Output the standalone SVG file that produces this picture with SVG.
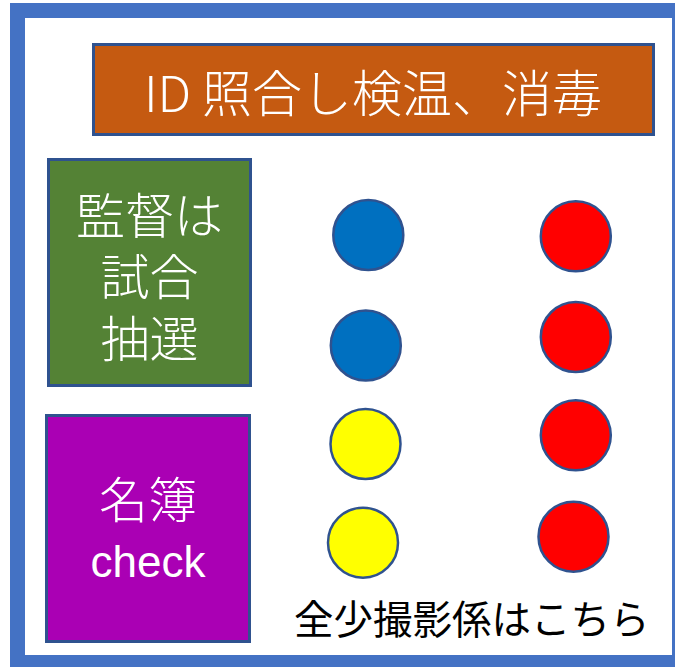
<svg xmlns="http://www.w3.org/2000/svg" width="675" height="667" viewBox="0 0 675 667">
<style>
.box{stroke:#2F528F;stroke-width:3}
.dot{stroke:#2F528F;stroke-width:2.5}
.wt{fill:#FFFFFF;font-family:"Noto Sans CJK JP","Noto Sans",sans-serif;font-weight:300;text-anchor:middle;dominant-baseline:central}
.lat{fill:#FFFFFF;font-family:"Liberation Sans","Noto Sans",sans-serif;text-anchor:middle}
.bk{fill:#000000;font-family:"Noto Sans CJK JP",sans-serif;font-weight:400;text-anchor:middle;dominant-baseline:central}
</style>
<rect x="0" y="0" width="675" height="667" fill="#FFFFFF"/>
<rect id="frame" x="17.5" y="10.5" width="662" height="652" fill="#FFFFFF" stroke="#4472C4" stroke-width="15"/>
<g id="title">
<rect class="box" x="93.5" y="44.5" width="560" height="90" fill="#C55A11"/>
<text class="wt" x="373" y="90" font-size="50">ID 照合し検温、消毒</text>
</g>
<g id="supervisor">
<rect class="box" x="48.5" y="159.5" width="202" height="226" fill="#548235"/>
<text class="wt" font-size="49"><tspan x="149.5" y="212">監督は</tspan><tspan x="149.5" y="273">試合</tspan><tspan x="149.5" y="335">抽選</tspan></text>
</g>
<g id="roster">
<rect class="box" x="46.5" y="415.5" width="203" height="226" fill="#AA00B4"/>
<text class="wt" x="148" y="496" font-size="49">名簿</text>
<text class="lat" x="148" y="577" font-size="44">check</text>
</g>
<g id="dots">
<circle id="blue1" class="dot" cx="368.3" cy="235" r="35" fill="#0070C0"/>
<circle id="blue2" class="dot" cx="365.8" cy="345.5" r="35" fill="#0070C0"/>
<circle id="yellow1" class="dot" cx="365.5" cy="444" r="35" fill="#FFFF00"/>
<circle id="yellow2" class="dot" cx="363" cy="542.7" r="35" fill="#FFFF00"/>
<circle id="red1" class="dot" cx="575.8" cy="236.3" r="35" fill="#FF0000"/>
<circle id="red2" class="dot" cx="575.8" cy="337" r="35" fill="#FF0000"/>
<circle id="red3" class="dot" cx="575.8" cy="435.3" r="35" fill="#FF0000"/>
<circle id="red4" class="dot" cx="573.5" cy="536.7" r="35" fill="#FF0000"/>
</g>
<g id="caption">
<text class="bk" x="471.7" y="616" font-size="39.5">全少撮影係はこちら</text>
</g>
<g id="connectors"/>
</svg>
